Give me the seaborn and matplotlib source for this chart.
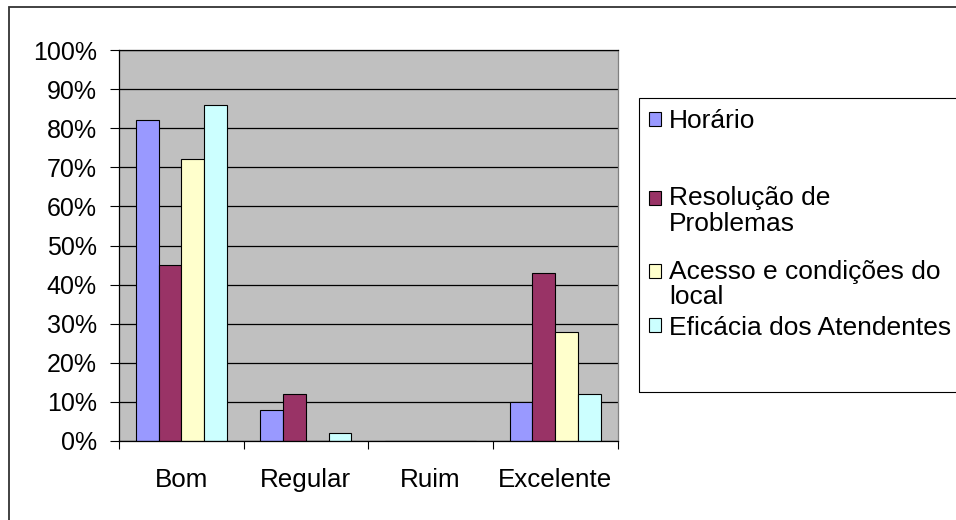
import matplotlib
matplotlib.use("Agg")
import matplotlib.pyplot as plt
import seaborn as sns
import pandas as pd
from matplotlib.patches import Rectangle
from matplotlib.legend_handler import HandlerPatch

categories = ["Bom", "Regular", "Ruim", "Excelente"]
series = ["Horário", "Resolução de Problemas", "Acesso e condições do local", "Eficácia dos Atendentes"]
legend_labels = ["Horário", "Resolução de\nProblemas", "Acesso e condições do\nlocal", "Eficácia dos Atendentes"]
horario = [82, 8, 0, 10]
resolucao = [45, 12, 0, 43]
acesso = [72, 0, 0, 28]
eficacia = [86, 2, 0, 12]
y_ticks = list(range(0, 101, 10))
y_tick_labels = [f"{v}%" for v in y_ticks]
colors = ["#9999FF", "#993366", "#FFFFCC", "#CCFFFF"]

rows = []
for s, vals in zip(series, [horario, resolucao, acesso, eficacia]):
    for c, v in zip(categories, vals):
        rows.append({"categoria": c, "serie": s, "valor": v})
df = pd.DataFrame(rows)

plt.rcParams["font.family"] = ["Liberation Sans", "DejaVu Sans"]
W, H = 956, 520
fig = plt.figure(figsize=(W / 100, H / 100), dpi=100)
fig.patch.set_facecolor("white")
ax = fig.add_axes([119 / W, 1 - 441 / H, (617.5 - 119) / W, (441 - 50) / H])
ax.set_facecolor("#C0C0C0")

sns.barplot(data=df, x="categoria", y="valor", hue="serie", order=categories,
            hue_order=series, palette=colors, width=0.73, edgecolor="black",
            linewidth=0.8, saturation=1, errorbar=None, ax=ax)

ax.set_xlim(-0.5, len(categories) - 0.5)
ax.set_ylim(0, 100)
ax.set_yticks(y_ticks)
ax.set_yticklabels(y_tick_labels)
ax.set_xlabel("")
ax.set_ylabel("")
ax.set_axisbelow(True)
ax.yaxis.grid(True, color="black", linewidth=0.9)
ax.xaxis.grid(False)

for side in ["left", "bottom", "top"]:
    ax.spines[side].set_color("black")
    ax.spines[side].set_linewidth(0.9)
ax.spines["right"].set_color("#808080")
ax.spines["right"].set_linewidth(0.9)

ax.tick_params(axis="y", direction="out", length=6.5, width=0.8, pad=9.4,
               labelsize=18, colors="black")
ax.tick_params(axis="x", which="major", length=0, pad=19.5, labelsize=18.7)
ax.set_xticks([i - 0.5 for i in range(len(categories) + 1)], minor=True)
ax.tick_params(axis="x", which="minor", direction="out", length=6, width=0.8)

handles, _ = ax.get_legend_handles_labels()
if ax.get_legend() is not None:
    ax.get_legend().remove()

LEG_FS = 19
LINE_SP = 1.08


def make_handler(shift_pt):
    def patch_func(legend, orig_handle, xdescent, ydescent, width, height, fontsize):
        return Rectangle((-xdescent, -ydescent + shift_pt), width, height)
    return HandlerPatch(patch_func=patch_func)


# first-line centres (px from top) of each legend entry
entry_centres = [120, 197, 270.7, 326.7]
for h, lab, yc in zip(handles, legend_labels, entry_centres):
    nlines = lab.count("\n") + 1
    shift = (nlines - 1) * 26.5 * 72 / 100 / 2
    leg = fig.legend([h], [lab], loc="upper left",
                     bbox_to_anchor=(649 / W, 1 - (yc - 11) / H), frameon=False,
                     borderpad=0, borderaxespad=0, handlelength=0.45,
                     handleheight=0.45, handletextpad=0.32, fontsize=LEG_FS,
                     handler_map={h: make_handler(shift)})
    for t in leg.get_texts():
        t.set_linespacing(LINE_SP)

fig.patches.append(Rectangle((639 / W, 1 - 392 / H), (970 - 639) / W, (392 - 97.7) / H,
                             transform=fig.transFigure, fill=False,
                             edgecolor="black", linewidth=0.8))
fig.patches.append(Rectangle((8.5 / W, -0.1), 1.2, 1.1 - 7.5 / H,
                             transform=fig.transFigure, fill=False,
                             edgecolor="#333333", linewidth=1.3))

fig.savefig("out.png", dpi=100)
